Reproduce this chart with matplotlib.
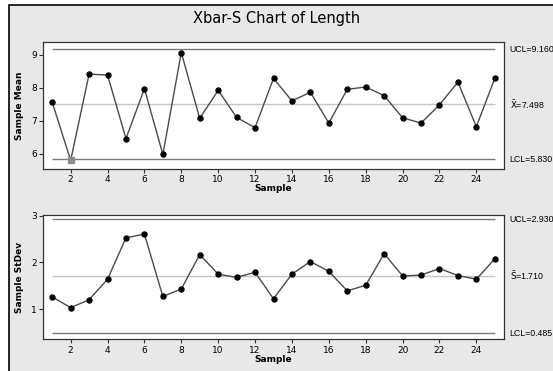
import matplotlib
matplotlib.use("Agg")
import matplotlib.pyplot as plt
from matplotlib.patches import Rectangle

# sample numbers and readings taken from the chart
samples = list(range(1, 26))
sample_means = [7.56, 5.80, 8.41, 8.38, 6.46, 7.97, 5.98, 9.06, 7.07, 7.92,
                7.10, 6.79, 8.28, 7.60, 7.86, 6.93, 7.95, 8.02, 7.76, 7.09,
                6.93, 7.48, 8.17, 6.82, 8.28]
sample_sds = [1.26, 1.03, 1.20, 1.64, 2.53, 2.61, 1.27, 1.43, 2.17, 1.75,
              1.68, 1.79, 1.22, 1.75, 2.02, 1.81, 1.39, 1.51, 2.19, 1.71,
              1.73, 1.87, 1.72, 1.64, 2.08]

mean_limits = {"UCL": 9.160, "center": 7.498, "LCL": 5.830}
sd_limits = {"UCL": 2.930, "center": 1.710, "LCL": 0.485}
out_of_control = [2]   # samples flagged on the Xbar chart
xticks = list(range(2, 26, 2))

bg = "#e8e8e8"
line_col = "#4a4a4a"

fig = plt.figure(figsize=(5.53, 3.71), dpi=100, facecolor="white")
# window-like frame
fig.add_artist(Rectangle((9 / 553, -0.1), 1.2, 1 - 5 / 371 + 0.1,
                         transform=fig.transFigure, facecolor=bg,
                         edgecolor="black", linewidth=1.2, zorder=-1))

fig.text(0.5, 1 - 19 / 371, "Xbar-S Chart of Length", ha="center", va="center",
         fontsize=10.5, family="DejaVu Sans")

left = 43 / 553
width = 461 / 553
ax1 = fig.add_axes([left, 1 - 168.7 / 371, width, 126.7 / 371])
ax2 = fig.add_axes([left, 1 - 339.3 / 371, width, 124.3 / 371])


def control_panel(ax, values, limits, ylabel, center_label, ylim, yticks, flagged=()):
    ax.set_facecolor("white")
    ax.hlines([limits["UCL"], limits["LCL"]], 1, 25, color="#7a7a7a", lw=1.0, zorder=1)
    ax.hlines(limits["center"], 1, 25, color="#c4c4c4", lw=1.0, zorder=1)
    ax.plot(samples, values, color=line_col, lw=1.0, zorder=2)
    ok = [(s, v) for s, v in zip(samples, values) if s not in flagged]
    ax.plot([p[0] for p in ok], [p[1] for p in ok], "o", color="black",
            ms=3.6, zorder=3)
    bad = [(s, v) for s, v in zip(samples, values) if s in flagged]
    if bad:
        ax.plot([p[0] for p in bad], [p[1] for p in bad], "s", color="#8c8c8c",
                ms=3.8, zorder=3)
    ax.set_xlim(0.5, 25.5)
    ax.set_ylim(*ylim)
    ax.set_xticks(xticks)
    ax.set_yticks(yticks)
    ax.tick_params(labelsize=6.5, length=3, width=0.8, pad=1.5, color="#333333")
    for sp in ax.spines.values():
        sp.set_color("#333333")
        sp.set_linewidth(0.9)
    ax.set_xlabel("Sample", fontsize=6.5, fontweight="bold", labelpad=0)
    ax.set_ylabel(ylabel, fontsize=6.5, fontweight="bold", labelpad=5)

    # limit labels to the right of the box
    kw = dict(fontsize=6.3, va="center", ha="left", clip_on=False,
              family=["Liberation Sans", "DejaVu Sans"])
    ax.text(25.8, limits["UCL"], "UCL=%.3f" % limits["UCL"], **kw)
    ax.text(25.8, limits["center"], center_label, **kw)
    ax.text(25.8, limits["LCL"], "LCL=%.3f" % limits["LCL"], **kw)


control_panel(ax1, sample_means, mean_limits, "Sample Mean",
              r"$\bar{\mathrm{X}}$=%.3f" % mean_limits["center"], (5.55, 9.38),
              [6, 7, 8, 9], flagged=out_of_control)
control_panel(ax2, sample_sds, sd_limits, "Sample StDev",
              r"$\bar{\mathrm{S}}$=%.3f" % sd_limits["center"], (0.35, 3.02), [1, 2, 3])

fig.savefig("out.png", dpi=100, facecolor=fig.get_facecolor())
